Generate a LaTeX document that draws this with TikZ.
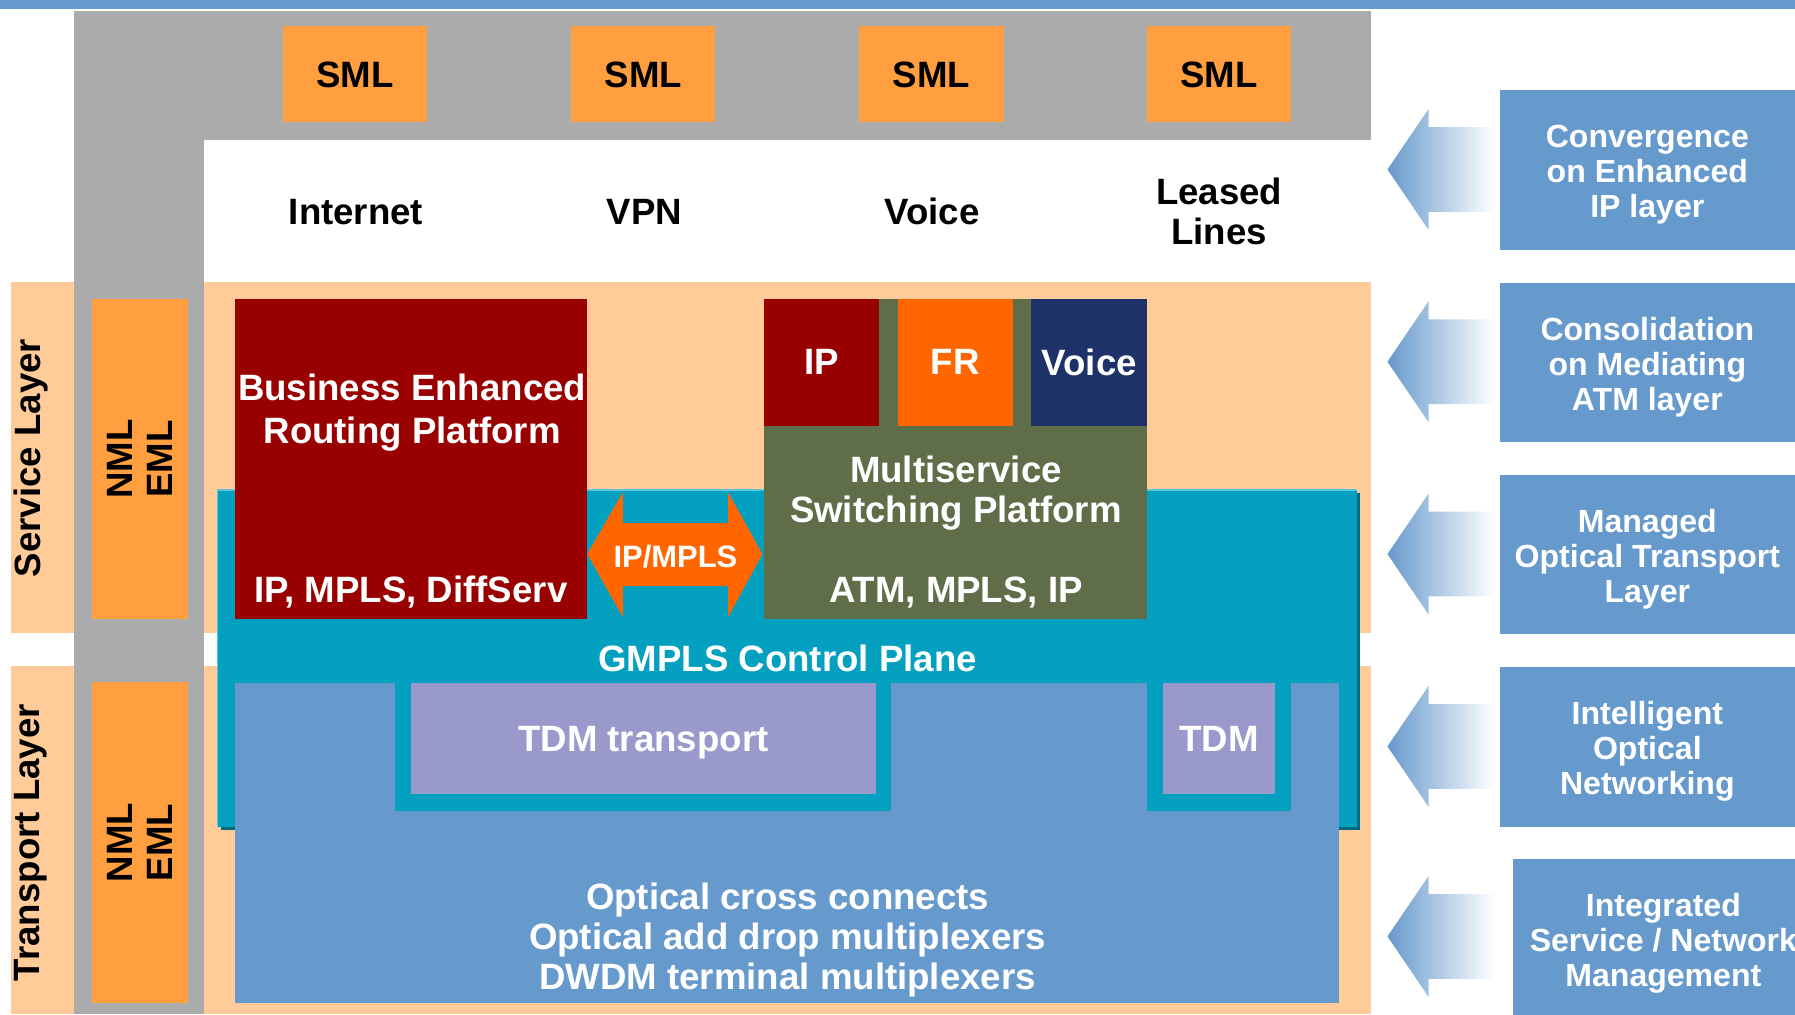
\documentclass[tikz,border=0pt]{standalone}
\usepackage{fontspec}
\setmainfont{Liberation Sans}
\definecolor{topblue}{HTML}{6699CC}
\definecolor{peach}{HTML}{FFCC99}
\definecolor{gbar}{HTML}{AAABAA}
\definecolor{smlor}{HTML}{FF9F40}
\definecolor{dred}{HTML}{990000}
\definecolor{msgreen}{HTML}{5F6D48}
\definecolor{frorange}{HTML}{FF6600}
\definecolor{navyv}{HTML}{1C3268}
\definecolor{gmplsteal}{HTML}{03A0BF}
\definecolor{tealdark}{HTML}{006A80}
\definecolor{teallight}{HTML}{5CC6DC}
\definecolor{lav}{HTML}{9999CC}
\begin{document}
\begin{tikzpicture}[x=1pt,y=-1pt,
  blk/.style={rectangle, inner sep=0pt, outer sep=0pt, draw=none, anchor=north west},
  big/.style={font=\fontsize{32}{35}\selectfont\bfseries, align=center, inner sep=0pt},
  wbig/.style={big, text=white},
  side/.style={font=\fontsize{28}{30.5}\selectfont\bfseries, align=center, inner sep=0pt, text=white},
  fade/.style={left color=topblue, right color=white, draw=none}]
\useasboundingbox (0,0) rectangle (1568,886);
\clip (0,0) rectangle (1568,886);
\fill[white] (0,0) rectangle (1568,886);
\fill[topblue] (0,0) rectangle (1568,8);
% layer bands
\fill[peach] (10,246) rectangle (1198,553);
\fill[peach] (10,582) rectangle (1198,886);
% gray management frame
\fill[gbar] (65,10) rectangle (1198,122);
\fill[gbar] (65,10) rectangle (178,886);
% SML boxes
\node[blk, fill=smlor, minimum width=126pt, minimum height=84pt, big] (sml1) at (247,23) {SML};
\node[blk, fill=smlor, minimum width=126pt, minimum height=84pt, big] (sml2) at (499,23) {SML};
\node[blk, fill=smlor, minimum width=127pt, minimum height=84pt, big] (sml3) at (750,23) {SML};
\node[blk, fill=smlor, minimum width=126pt, minimum height=84pt, big] (sml4) at (1002,23) {SML};
% services
\node[big] (inet) at (311,185) {Internet};
\node[big] (vpn) at (563,185) {VPN};
\node[big] (voice) at (814,185) {Voice};
\node[big] (leased) at (1065,185) {Leased\\Lines};
% NML / EML boxes
\node[blk, fill=smlor, minimum width=84pt, minimum height=280pt] (nml1) at (80,261) {};
\node[blk, fill=smlor, minimum width=84pt, minimum height=280pt] (nml2) at (80,596) {};
\node[big, rotate=90] (nml1t) at (nml1.center) {NML\\EML};
\node[big, rotate=90] (nml2t) at (nml2.center) {NML\\EML};
\node[big, rotate=90] (svc) at (27,400) {Service Layer};
\node[big, rotate=90] (trn) at (27,736) {Transport Layer};
% GMPLS control plane
\fill[tealdark] (193,431) rectangle (1188,725);
\node[blk, fill=gmplsteal, minimum width=995pt, minimum height=294pt] (gmpls) at (190,428) {};
\draw[teallight, line width=1.5pt] (gmpls.south west) -- (gmpls.north west) -- (gmpls.north east);
\node[wbig] (gmplst) at (688,575) {GMPLS Control Plane};
% Business enhanced routing platform
\node[blk, fill=dred, minimum width=308pt, minimum height=280pt] (berp) at (205,261) {};
\node[wbig, font=\fontsize{32}{37}\selectfont\bfseries] (berpt) at (360,360.5) {Business Enhanced\\Routing Platform};
\node[wbig] (berpp) at (359,517) {IP, MPLS, DiffServ};
% Multiservice switching platform
\node[blk, fill=msgreen, minimum width=335pt, minimum height=280pt] (msp) at (667,261) {};
\node[blk, fill=dred, minimum width=101pt, minimum height=111pt, wbig] (ipb) at (667,261) {IP};
\node[blk, fill=frorange, minimum width=101pt, minimum height=111pt, wbig] (frb) at (784,261) {FR};
\node[blk, fill=navyv, minimum width=101pt, minimum height=111pt, wbig] (vcb) at (901,261) {Voice};
\node[wbig] (mspt) at (835,431) {Multiservice\\Switching Platform};
\node[wbig] (mspp) at (835,518) {ATM, MPLS, IP};
% IP/MPLS double arrow
\fill[frorange] (513,484) -- (544,430) -- (544,457) -- (636,457) -- (636,430) -- (666,484)
  -- (636,539) -- (636,512) -- (544,512) -- (544,539) -- cycle;
\node[font=\fontsize{27}{30}\selectfont\bfseries, text=white, inner sep=0pt] (ipmpls) at (590,486) {IP/MPLS};
% optical transport
\node[blk, fill=topblue, minimum width=965pt, minimum height=279pt] (ocx) at (205,597) {};
\fill[gmplsteal] (345,597) rectangle (778,708);
\fill[gmplsteal] (1002,597) rectangle (1128,708);
\node[blk, fill=lav, minimum width=406pt, minimum height=97pt] (tdmt) at (359,597) {};
\node[wbig, yshift=-3pt] (tdmtt) at (tdmt.center) {TDM transport};
\node[blk, fill=lav, minimum width=98pt, minimum height=97pt, wbig] (tdm) at (1016,597) {TDM};
\node[wbig] (optt) at (688,821) {Optical cross connects\\Optical add drop multiplexers\\DWDM terminal multiplexers};
% right side evolution steps
\foreach \c in {148,316,484,652,818}{
  \shade[fade] (1212,\c) -- (1248,\c-53) -- (1248,\c-37) -- (1305,\c-37) -- (1305,\c+37)
    -- (1248,\c+37) -- (1248,\c+53) -- cycle;
}
\node[blk, fill=topblue, minimum width=258pt, minimum height=139pt] (r1) at (1310,79) {};
\node[blk, fill=topblue, minimum width=258pt, minimum height=139pt] (r2) at (1310,247) {};
\node[blk, fill=topblue, minimum width=258pt, minimum height=139pt] (r3) at (1310,415) {};
\node[blk, fill=topblue, minimum width=258pt, minimum height=139pt] (r4) at (1310,583) {};
\node[blk, fill=topblue, minimum width=262pt, minimum height=140pt] (r5) at (1322,750) {};
\node[side, yshift=-4pt] (r1t) at (r1.center) {Convergence\\on Enhanced\\IP layer};
\node[side, yshift=-4pt] (r2t) at (r2.center) {Consolidation\\on Mediating\\ATM layer};
\node[side, yshift=-4pt] (r3t) at (r3.center) {Managed\\Optical Transport\\Layer};
\node[side, yshift=-4pt] (r4t) at (r4.center) {Intelligent\\Optical\\Networking};
\node[side, yshift=-4pt] (r5t) at (r5.center) {Integrated\\Service / Network\\Management};
\end{tikzpicture}
\end{document}
